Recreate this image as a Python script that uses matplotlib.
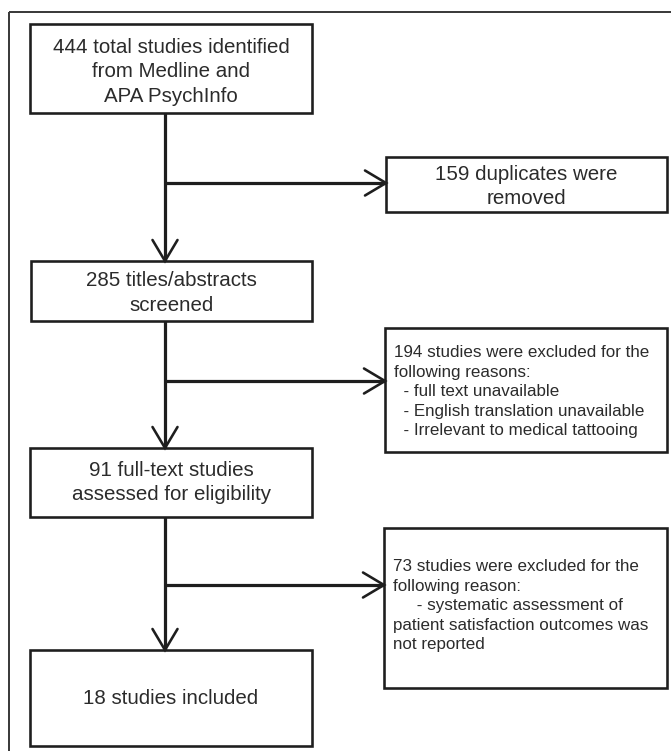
import matplotlib.pyplot as plt
from matplotlib.patches import Rectangle

# box texts (the data of this flow diagram)
main_steps = [
    ["444 total studies identified", "from Medline and", "APA PsychInfo"],
    ["285 titles/abstracts", "screened"],
    ["91 full-text studies", "assessed for eligibility"],
    ["18 studies included"],
]
side_steps = [
    ["159 duplicates were", "removed"],
    ["194 studies were excluded for the", "following reasons:",
     "  - full text unavailable", "  - English translation unavailable",
     "  - Irrelevant to medical tattooing"],
    ["73 studies were excluded for the", "following reason:",
     "     - systematic assessment of", "patient satisfaction outcomes was",
     "not reported"],
]

# layout in pixels (x0, y0, x1, y1), y grows downwards
main_boxes = [(30, 24, 312, 113), (31, 261, 312, 321), (30, 448, 312, 517), (30, 650, 312, 746)]
side_boxes = [(386, 157, 667, 212), (385, 328, 667, 452), (384, 528, 667, 688)]
side_arrow_y = [183, 381, 585]
side_align = ["center", "left", "left"]
spine_x = 165

W, H = 671, 751
fig = plt.figure(figsize=(W / 100, H / 100), dpi=100)
ax = fig.add_axes([0, 0, 1, 1])
ax.set_xlim(0, W)
ax.set_ylim(H, 0)
ax.axis("off")

px = 72 / 100  # points per pixel
ink = "#1e1e1e"
txt = "#2b2b2b"
font = "Liberation Sans"

# outer frame (runs off the right and bottom edge)
ax.add_patch(Rectangle((9, 12), 700, 800, fill=False, ec="#3c3c3c", lw=2 * px))


def draw_box(b, lines, align, fs_px, spacing, nudge=0):
    x0, y0, x1, y1 = b
    ax.add_patch(Rectangle((x0, y0), x1 - x0, y1 - y0, fill=False, ec=ink, lw=2.6 * px))
    cy = (y0 + y1) / 2 + nudge
    n = len(lines)
    for i, s in enumerate(lines):
        y = cy + (i - (n - 1) / 2) * spacing + 0.36 * fs_px
        if align == "center":
            ax.text((x0 + x1) / 2, y, s, ha="center", va="baseline",
                    fontsize=fs_px * px, color=txt, family=font)
        else:
            ax.text(x0 + 9, y, s, ha="left", va="baseline",
                    fontsize=fs_px * px, color=txt, family=font)


def arrow_head(tx, ty, direction):
    L, hw = 21, 12.5
    if direction == "down":
        pts = [(tx - hw, ty - L), (tx, ty), (tx + hw, ty - L)]
    else:
        pts = [(tx - L, ty - hw), (tx, ty), (tx - L, ty + hw)]
    ax.plot([p[0] for p in pts], [p[1] for p in pts], color=ink,
            lw=2.6 * px, solid_capstyle="round", solid_joinstyle="miter")


for b, lines, nudge in zip(main_boxes, main_steps, [1.5, 0, -2, -1]):
    draw_box(b, lines, "center", 20.5, 24.5, nudge)

for b, lines, al, nudge in zip(side_boxes, side_steps, side_align, [0, 0, -4]):
    if al == "center":
        draw_box(b, lines, al, 20.5, 24.5, nudge)
    else:
        draw_box(b, lines, al, 17.0, 19.6, nudge)

# vertical connectors between main boxes
for a, b in zip(main_boxes[:-1], main_boxes[1:]):
    ax.plot([spine_x, spine_x], [a[3], b[1]], color=ink, lw=3.2 * px, solid_capstyle="butt")
    arrow_head(spine_x, b[1], "down")

# side connectors
for y, b in zip(side_arrow_y, side_boxes):
    ax.plot([spine_x, b[0]], [y, y], color=ink, lw=3.2 * px, solid_capstyle="butt")
    arrow_head(b[0], y, "right")

fig.savefig("out.png", dpi=100)
